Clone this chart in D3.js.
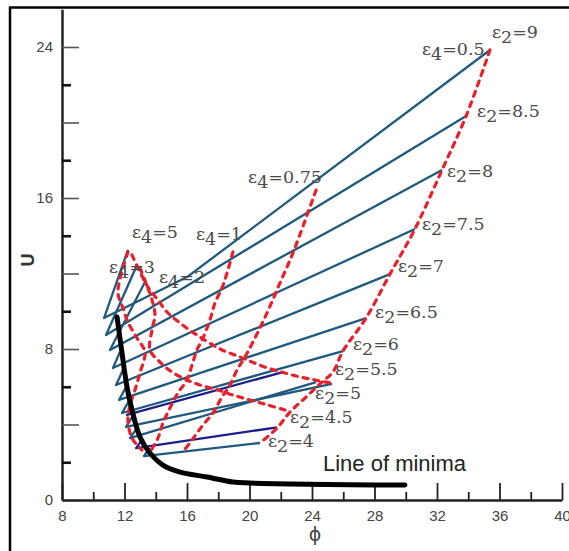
<!DOCTYPE html>
<html><head><meta charset="utf-8">
<script src="https://cdn.jsdelivr.net/npm/d3@7"></script>
<style>html,body{margin:0;padding:0;background:#fff;} svg{display:block;}</style>
</head><body>
<svg id="chart" width="569" height="551"></svg>
<script>
// ---------------- data (phi, U) ----------------
const phiLongTicks = [8, 12, 16, 20, 24, 28, 32, 36, 40];
const phiShortTicks = [10, 14, 18, 22, 26, 30, 34, 38];
const phiTickLabels = [8, 12, 16, 20, 24, 28, 32, 36, 40];
const uLongTicks = [0, 4, 8, 12, 16, 20, 24];
const uShortTicks = [2, 6, 10, 14, 18, 22];
const uTickLabels = [0, 8, 16, 24];

// lines of constant epsilon_2 (blue)
const eps2Values = [4, 4.5, 5, 5.5, 6, 6.5, 7, 7.5, 8, 8.5, 9];
const eps2_4   = [[20.67, 3.02], [13.25, 2.33], [13.6, 2.75]];
const eps2_4_5 = [[21.76, 3.85], [12.74, 2.75], [13.12, 3.18]];
const eps2_5   = [[24.26, 6.25], [12.35, 3.28], [12.8, 3.81]];
const eps2_5_5 = [[25.28, 6.15], [12.1, 3.87], [12.54, 4.45]];
const eps2_6   = [[25.98, 7.89], [11.84, 4.61], [12.29, 5.25]];
const eps2_6_5 = [[27.46, 9.64], [11.65, 5.30], [12.1, 5.99]];
const eps2_7   = [[28.99, 11.97], [11.46, 6.09], [11.9, 6.89]];
const eps2_7_5 = [[30.59, 14.36], [11.26, 6.99], [11.71, 7.84]];
const eps2_8   = [[32.32, 17.48], [11.07, 7.95], [13.31, 11.55]];
const eps2_8_5 = [[33.86, 20.34], [10.82, 8.74], [12.8, 12.45]];
const eps2_9   = [[35.39, 23.84], [16.0, 11.81], [10.69, 9.64], [12.22, 13.25]];
const eps2Lines = [eps2_4, eps2_4_5, eps2_5, eps2_5_5, eps2_6, eps2_6_5, eps2_7, eps2_7_5, eps2_8, eps2_8_5, eps2_9];
const eps2Navy = [false, true, false, false, false, false, false, false, false, false, false];
const extraNavyLine = [[12.1, 4.5], [22.14, 6.78]];

// lines of constant epsilon_4 (red dashed)
const eps4Values = ["0.5", "0.75", "1", "2", "3", "5"];
const eps4_0_5 = [[35.39, 23.84], [33.86, 20.34], [32.32, 17.48], [30.59, 14.36], [28.99, 11.97], [27.46, 9.64],
                  [25.98, 7.89], [25.34, 6.78], [24.64, 6.25], [23.55, 5.40], [22.59, 4.66], [21.76, 3.81], [20.67, 3.02]];
const eps4_0_75 = [[24.26, 16.42], [22.78, 13.09], [21.95, 11.50], [21.12, 9.91], [20.22, 8.37], [19.71, 7.58],
                   [19.2, 6.89], [18.75, 6.09], [18.24, 5.46], [17.66, 4.61], [17.02, 3.97], [16.32, 3.18], [15.74, 2.54]];
const eps4_1 = [[18.94, 13.14], [18.56, 12.03], [18.24, 11.23], [17.79, 10.44], [17.47, 9.54], [17.02, 8.58],
                [16.64, 7.95], [16.32, 7.15], [16.0, 6.36], [15.42, 5.67], [14.91, 4.87], [14.46, 4.08], [14.14, 3.28], [13.63, 2.54]];
const eps4_2 = [[12.48, 12.98], [12.99, 12.08], [13.50, 11.28], [14.14, 10.60], [14.72, 9.96], [15.55, 9.38],
                [16.64, 8.74], [18.24, 7.95], [19.39, 7.58], [20.16, 7.31], [21.18, 6.99], [22.27, 6.73],
                [23.23, 6.52], [24.19, 6.36], [25.15, 6.20]];
const eps4_3 = [[12.99, 12.29], [13.76, 10.60], [13.95, 9.80], [13.76, 9.01], [13.63, 7.95], [14.27, 7.31],
                [15.04, 6.78], [16.0, 6.36], [16.83, 6.09], [17.98, 5.83], [18.94, 5.56], [20.03, 5.30],
                [21.18, 5.03], [22.27, 4.77]];
const eps4_5 = [[12.22, 13.14], [11.58, 11.02], [11.90, 10.17], [12.22, 9.43], [12.80, 8.58], [13.31, 7.84],
                [12.99, 6.73], [12.67, 5.83], [12.35, 5.03], [12.22, 4.24], [12.48, 3.28], [13.12, 2.65]];
const eps4Lines = [eps4_0_5, eps4_0_75, eps4_1, eps4_2, eps4_3, eps4_5];

// line of minima (black)
const minimaPhi = [11.52, 11.84, 12.16, 12.48, 12.99, 13.63, 14.46, 15.55, 17.28, 18.94, 20.03, 29.95];
const minimaU   = [9.70, 7.79, 5.99, 4.77, 3.34, 2.49, 1.85, 1.48, 1.22, 0.95, 0.90, 0.79];

// ---------------- layout ----------------
const eps2LabelOffsets = [[8, 4], [13, -4], [-1, 17], [3, -9], [10, -1], [9, 0], [8, -2], [7, 1], [5, 7], [11, 1], [2, -12]];
const eps4LabelOffsets = [[-68, 5], [-68, -7], [-37, -12], [27, 28], [-31, 5], [4, -14]];

const svg = d3.select('#chart');
const x = d3.scaleLinear().domain([8, 40]).range([62, 562]);
const y = d3.scaleLinear().domain([0, 26]).range([500, 9.25]);

// frame
svg.append('line').attr('x1', 10).attr('x2', 10).attr('y1', 7).attr('y2', 551)
  .attr('stroke', '#000').attr('stroke-width', 2.5);
svg.append('line').attr('x1', 9).attr('x2', 569).attr('y1', 7.5).attr('y2', 7.5)
  .attr('stroke', '#000').attr('stroke-width', 2.5);

// axes
const gy = svg.append('g').attr('transform', `translate(${x(8)},0)`);
gy.append('g').call(d3.axisRight(y).tickValues(uLongTicks).tickSize(17).tickSizeOuter(0).tickFormat(''))
  .call(g => { g.select('.domain').attr('stroke', '#222').attr('stroke-width', 2.5);
               g.selectAll('.tick line').attr('stroke', '#555').attr('stroke-width', 1.6); });
gy.append('g').call(d3.axisRight(y).tickValues(uShortTicks).tickSize(9).tickSizeOuter(0).tickFormat(''))
  .call(g => { g.select('.domain').remove();
               g.selectAll('.tick line').attr('stroke', '#111').attr('stroke-width', 2.6); });
gy.append('g').call(d3.axisLeft(y).tickValues(uTickLabels).tickSize(0).tickPadding(9).tickFormat(d3.format('d')))
  .call(g => { g.select('.domain').remove();
               g.selectAll('text').attr('font-family', 'Liberation Sans, Arial, sans-serif')
                 .attr('font-size', 15).attr('fill', '#444'); });

const gx = svg.append('g').attr('transform', `translate(0,${y(0)})`);
gx.append('g').call(d3.axisTop(x).tickValues(phiLongTicks).tickSize(17).tickSizeOuter(0).tickFormat(''))
  .call(g => { g.select('.domain').attr('stroke', '#222').attr('stroke-width', 2.5);
               g.selectAll('.tick line').attr('stroke', '#222').attr('stroke-width', 1.8); });
gx.append('g').call(d3.axisTop(x).tickValues(phiShortTicks).tickSize(8).tickSizeOuter(0).tickFormat(''))
  .call(g => { g.select('.domain').remove();
               g.selectAll('.tick line').attr('stroke', '#222').attr('stroke-width', 1.8); });
gx.append('g').call(d3.axisBottom(x).tickValues(phiTickLabels).tickSize(0).tickPadding(10).tickFormat(d3.format('d')))
  .call(g => { g.select('.domain').remove();
               g.selectAll('text').attr('font-family', 'Liberation Sans, Arial, sans-serif')
                 .attr('font-size', 15).attr('fill', '#444'); });

// axis titles
svg.append('text').attr('transform', 'translate(34,260) rotate(-90)').attr('text-anchor', 'middle')
  .attr('font-family', 'Liberation Sans, Arial, sans-serif').attr('font-size', 18).attr('font-weight', 'bold')
  .attr('fill', '#333').text('U');
svg.append('text').attr('x', 315).attr('y', 541).attr('text-anchor', 'middle')
  .attr('font-family', 'DejaVu Sans, sans-serif').attr('font-size', 19).attr('fill', '#444').text('ϕ');

// lines
const straight = d3.line().x(d => x(d[0])).y(d => y(d[1]));
const smooth = d3.line().x(d => x(d[0])).y(d => y(d[1])).curve(d3.curveCatmullRom);

const blueG = svg.append('g').attr('fill', 'none').attr('stroke-linejoin', 'round');
blueG.selectAll('path.e2').data(eps2Lines).join('path').attr('class', 'e2')
  .attr('d', straight)
  .attr('stroke', (d, i) => eps2Navy[i] ? '#1b1f86' : '#1f5a7e')
  .attr('stroke-width', 2.3);
blueG.append('path').attr('d', straight(extraNavyLine)).attr('stroke', '#1b1f86').attr('stroke-width', 2.3);

svg.append('g').attr('fill', 'none').selectAll('path').data(eps4Lines).join('path')
  .attr('d', smooth).attr('stroke', '#e8202c').attr('stroke-width', 3.2)
  .attr('stroke-dasharray', '5 6').attr('stroke-linecap', 'round');

const minima = minimaPhi.map((p, i) => [p, minimaU[i]]);
svg.append('path').attr('d', smooth(minima)).attr('fill', 'none').attr('stroke', '#000')
  .attr('stroke-width', 5).attr('stroke-linecap', 'round');

// labels
function epsLabel(g, px, py, sub, val) {
  const t = g.append('text').attr('x', px).attr('y', py)
    .attr('font-family', 'DejaVu Serif, Liberation Serif, serif').attr('font-size', 17.5).attr('fill', '#4a4a4a');
  t.append('tspan').text('ε');
  t.append('tspan').attr('dy', 5).text(sub);
  t.append('tspan').attr('dy', -5).text('=' + val);
}
const labG = svg.append('g');
eps2Values.forEach((v, i) => {
  const end = eps2Lines[i][0];
  epsLabel(labG, x(end[0]) + eps2LabelOffsets[i][0], y(end[1]) + eps2LabelOffsets[i][1], '2', v);
});
eps4Values.forEach((v, i) => {
  const top = eps4Lines[i][0];
  epsLabel(labG, x(top[0]) + eps4LabelOffsets[i][0], y(top[1]) + eps4LabelOffsets[i][1], '4', v);
});

svg.append('text').attr('x', x(minimaPhi[minimaPhi.length - 1]) - 82).attr('y', y(minimaU[minimaU.length - 1]) - 14)
  .attr('font-family', 'Liberation Sans, Arial, sans-serif').attr('font-size', 22).attr('fill', '#222')
  .text('Line of minima');
</script>
</body></html>
